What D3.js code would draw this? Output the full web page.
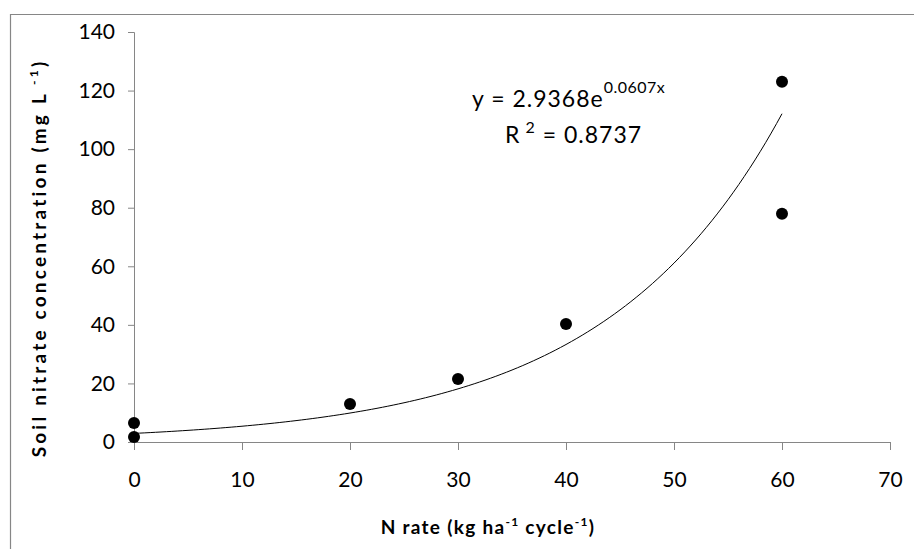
<!DOCTYPE html>
<html>
<head>
<meta charset="utf-8">
<script src="https://cdn.jsdelivr.net/npm/d3@7"></script>
<style>
  body { margin: 0; background: #fff; }
  text { font-family: Lato, "Open Sans", sans-serif; fill: #000; }
</style>
</head>
<body>
<svg id="chartSvg" width="914" height="549"></svg>
<script>
        // data
        const nRate = [0, 0, 20, 30, 40, 60, 60];
        const nitrate = [6.5, 1.7, 13.0, 21.5, 40.3, 123, 77.9];
        const xTicks = [0, 10, 20, 30, 40, 50, 60, 70];
        const yTicks = [0, 20, 40, 60, 80, 100, 120, 140];
        // exponential fit shown on the chart
        const fitA = 2.9368;
        const fitB = 0.0607;

        const svg = d3.select('#chartSvg');
        const margin = { top: 32, left: 134 };
        const innerWidth = 890 - margin.left;
        const innerHeight = 442 - margin.top;

        // chart border (right and bottom edges fall outside the picture)
        svg.append('path')
            .attr('d', 'M10.5,549 V14.5 H914')
            .attr('fill', 'none')
            .attr('stroke', '#868686')
            .attr('stroke-width', 1.2);

        const xScale = d3.scaleLinear().domain([0, 70]).range([0, innerWidth]);
        const yScale = d3.scaleLinear().domain([0, 140]).range([innerHeight, 0]);

        const g = svg.append('g')
            .attr('transform', 'translate(' + margin.left + ', ' + margin.top + ')');

        const yAxis = d3.axisLeft(yScale).tickValues(yTicks).tickSizeOuter(0).tickSize(6).tickPadding(13);
        const gY = g.append('g').call(yAxis);
        gY.selectAll('.domain, .tick line').attr('stroke', '#868686');
        gY.selectAll('text').style('font-size', '21px').style('font-family', 'Lato, sans-serif');

        const xAxis = d3.axisBottom(xScale).tickValues(xTicks).tickSizeOuter(0).tickSize(8).tickPadding(22);
        const gX = g.append('g').attr('transform', 'translate(0,' + innerHeight + ')').call(xAxis);
        gX.selectAll('.domain, .tick line').attr('stroke', '#868686');
        gX.selectAll('text').style('font-size', '21px').style('font-family', 'Lato, sans-serif');

        // trend line from the fitted equation
        const fitX = d3.range(0, 60.01, 0.5);
        const line = d3.line()
            .x(d => xScale(d))
            .y(d => yScale(fitA * Math.exp(fitB * d)));
        g.append('path')
            .datum(fitX)
            .attr('d', line)
            .attr('fill', 'none')
            .attr('stroke', '#000')
            .attr('stroke-width', 1);

        g.selectAll('circle')
            .data(nRate)
            .enter()
            .append('circle')
            .attr('cx', d => xScale(d))
            .attr('cy', (d, i) => yScale(nitrate[i]))
            .attr('r', 6)
            .attr('fill', '#000');

        // equation label
        const eq = svg.append('text')
            .attr('x', 472).attr('y', 107)
            .style('font-size', '23px')
            .style('letter-spacing', '1px');
        eq.append('tspan').text('y = 2.9368e');
        eq.append('tspan').attr('dy', -14).style('font-size', '16px').style('letter-spacing', '0.5px').text('0.0607x');

        const r2 = svg.append('text')
            .attr('x', 505).attr('y', 143)
            .style('font-size', '23px')
            .style('letter-spacing', '1px');
        r2.append('tspan').text('R');
        r2.append('tspan').attr('dy', -10).style('font-size', '16px').text(' 2');
        r2.append('tspan').attr('dy', 10).text(' = 0.8737');

        // axis titles
        const yt = svg.append('text')
            .attr('transform', 'translate(46, 258) rotate(-90)')
            .attr('text-anchor', 'middle')
            .style('font-size', '19px')
            .style('font-weight', 'bold')
            .style('letter-spacing', '3.2px');
        yt.append('tspan').text('Soil nitrate concentration (mg L');
        yt.append('tspan').attr('dy', -8).style('font-size', '12px').text(' -1');
        yt.append('tspan').attr('dy', 8).text(')');

        const xt = svg.append('text')
            .attr('x', 488).attr('y', 534)
            .attr('text-anchor', 'middle')
            .style('font-size', '19px')
            .style('font-weight', 'bold')
            .style('letter-spacing', '1.3px');
        xt.append('tspan').text('N rate (kg ha');
        xt.append('tspan').attr('dy', -8).style('font-size', '12px').text('-1');
        xt.append('tspan').attr('dy', 8).text(' cycle');
        xt.append('tspan').attr('dy', -8).style('font-size', '12px').text('-1');
        xt.append('tspan').attr('dy', 8).text(')');
</script>
</body>
</html>
